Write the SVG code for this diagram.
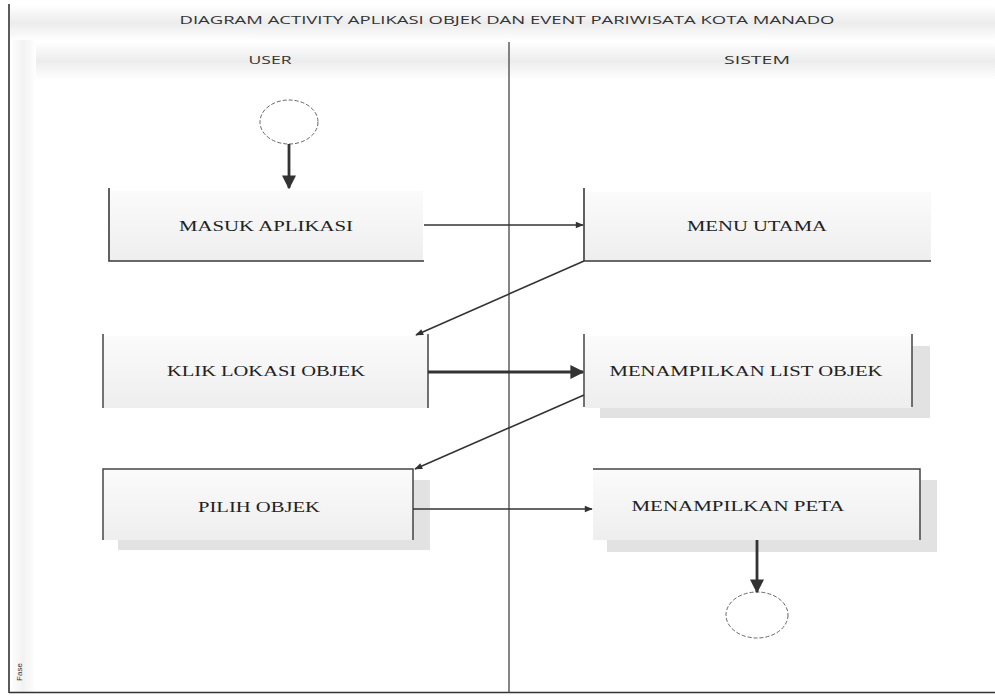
<svg xmlns="http://www.w3.org/2000/svg" width="995" height="696" viewBox="0 0 995 696">
  <defs>
    <linearGradient id="band" x1="0" y1="0" x2="0" y2="1">
      <stop offset="0" stop-color="#ffffff"/>
      <stop offset="0.5" stop-color="#ececec"/>
      <stop offset="1" stop-color="#ffffff"/>
    </linearGradient>
    <linearGradient id="boxFill" x1="0" y1="0" x2="0" y2="1">
      <stop offset="0" stop-color="#fbfbfb"/>
      <stop offset="1" stop-color="#eeeeee"/>
    </linearGradient>
    <linearGradient id="col" x1="0" y1="0" x2="1" y2="0">
      <stop offset="0" stop-color="#ffffff"/>
      <stop offset="0.5" stop-color="#f2f2f2"/>
      <stop offset="1" stop-color="#ffffff"/>
    </linearGradient>
    <marker id="arrow" viewBox="0 0 10 10" refX="9" refY="5" markerWidth="9" markerHeight="8" orient="auto" markerUnits="userSpaceOnUse">
      <path d="M0,1 L10,5 L0,9 z" fill="#333"/>
    </marker>
    <marker id="arrowBig" viewBox="0 0 10 10" refX="9" refY="5" markerWidth="5" markerHeight="5" orient="auto">
      <path d="M0,0 L10,5 L0,10 z" fill="#333"/>
    </marker>
  </defs>
  <style>
    .edge { stroke: #333; fill: none; }
    .thin { stroke-width: 1.6; }
    .thick { stroke-width: 2.8; }
    .frame { stroke: #3a3a3a; stroke-width: 1.6; fill: none; }
    .side { stroke: #444; stroke-width: 1.5; fill: none; }
    .shadow { fill: #e2e2e2; }
    .fill { fill: url(#boxFill); }
    .label { font-family: "Liberation Serif", "Times New Roman", serif; font-size: 14px; fill: #222; text-anchor: middle; }
    .head { font-family: "Open Sans", "Liberation Sans", sans-serif; font-size: 11px; fill: #333; text-anchor: middle; }
    .state { fill: #ffffff; stroke: #666; stroke-width: 1; stroke-dasharray: 4 2; }
  </style>

  <rect x="0" y="0" width="995" height="696" fill="#ffffff"/>

  <!-- pool: title band, lane headers, phase column -->
  <g id="pool">
    <rect x="10" y="5" width="985" height="36" fill="url(#band)"/>
    <rect x="32" y="42" width="963" height="38" fill="url(#band)"/>
    <rect x="10" y="40" width="26" height="652" fill="url(#col)"/>
    <text class="head" x="507" y="24" textLength="655" lengthAdjust="spacingAndGlyphs">DIAGRAM ACTIVITY APLIKASI OBJEK DAN EVENT PARIWISATA KOTA MANADO</text>
    <text class="head" x="270" y="64" textLength="43" lengthAdjust="spacingAndGlyphs">USER</text>
    <text class="head" x="757" y="64" textLength="66" lengthAdjust="spacingAndGlyphs">SISTEM</text>
    <text x="22" y="672" transform="rotate(-90 22 672)" font-family="Liberation Sans, sans-serif" font-size="8" fill="#333" text-anchor="middle">Fase</text>
    <line x1="9" y1="4" x2="9" y2="693" stroke="#333" stroke-width="1.6"/>
    <line x1="9" y1="692.5" x2="995" y2="692.5" stroke="#333" stroke-width="1.6"/>
    <line x1="509" y1="42" x2="509" y2="693" stroke="#444" stroke-width="1.3"/>
  </g>

  <!-- start -->
  <g id="start">
    <ellipse class="state" cx="289" cy="122" rx="29" ry="22"/>
  </g>

  <g id="masuk-aplikasi">
    <rect class="fill" x="110" y="191" width="313" height="70"/>
    <path class="frame" d="M109,188 V261 H424"/>
    <text class="label" x="266" y="231" textLength="174" lengthAdjust="spacingAndGlyphs">MASUK APLIKASI</text>
  </g>

  <g id="menu-utama">
    <rect class="fill" x="585" y="192" width="346" height="69"/>
    <path class="frame" d="M584,188 V261 H931"/>
    <text class="label" x="757" y="231" textLength="140" lengthAdjust="spacingAndGlyphs">MENU UTAMA</text>
  </g>

  <g id="klik-lokasi-objek">
    <rect class="fill" x="104" y="336" width="324" height="72"/>
    <path class="side" d="M103,334 V408 M428,334 V408"/>
    <text class="label" x="266" y="376" textLength="198" lengthAdjust="spacingAndGlyphs">KLIK LOKASI OBJEK</text>
  </g>

  <g id="menampilkan-list-objek">
    <rect class="shadow" x="600" y="346" width="330" height="72"/>
    <rect class="fill" x="585" y="336" width="327" height="72"/>
    <path class="side" d="M584,334 V407 M912,334 V407"/>
    <text class="label" x="746" y="376" textLength="273" lengthAdjust="spacingAndGlyphs">MENAMPILKAN LIST OBJEK</text>
  </g>

  <g id="pilih-objek">
    <rect class="shadow" x="118" y="480" width="312" height="70"/>
    <rect class="fill" x="104" y="470" width="309" height="70"/>
    <path class="side" d="M103,540 V469 H413 V540"/>
    <text class="label" x="259" y="512" textLength="122" lengthAdjust="spacingAndGlyphs">PILIH OBJEK</text>
  </g>

  <g id="menampilkan-peta">
    <rect class="shadow" x="607" y="480" width="330" height="72"/>
    <rect class="fill" x="593" y="470" width="327" height="70"/>
    <path class="side" d="M593,469 H920 V540"/>
    <text class="label" x="738" y="511" textLength="213" lengthAdjust="spacingAndGlyphs">MENAMPILKAN PETA</text>
  </g>

  <!-- end -->
  <g id="end">
    <ellipse class="state" cx="757" cy="615" rx="31" ry="23"/>
  </g>

  <g id="connectors">
    <line class="edge thick" x1="289" y1="144" x2="289" y2="188" marker-end="url(#arrowBig)"/>
    <line class="edge thin" x1="424" y1="225" x2="583" y2="225" marker-end="url(#arrow)"/>
    <line class="edge thin" x1="584" y1="261" x2="416" y2="335" marker-end="url(#arrow)"/>
    <line class="edge thick" x1="428" y1="372" x2="583" y2="372" marker-end="url(#arrowBig)"/>
    <line class="edge thin" x1="584" y1="395" x2="415" y2="469" marker-end="url(#arrow)"/>
    <line class="edge thin" x1="413" y1="509" x2="592" y2="509" marker-end="url(#arrow)"/>
    <line class="edge thick" x1="757" y1="540" x2="757" y2="592" marker-end="url(#arrowBig)"/>
  </g>
</svg>
